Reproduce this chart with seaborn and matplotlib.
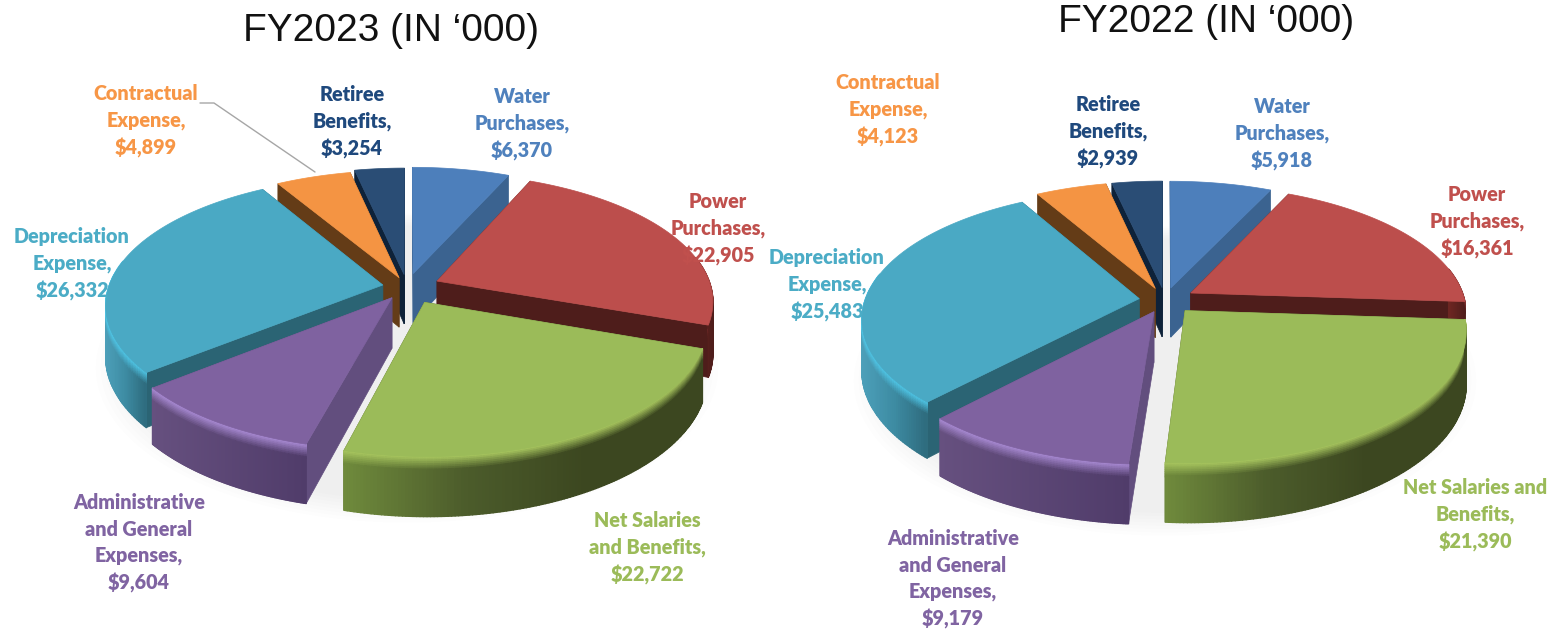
import numpy as np
import matplotlib
matplotlib.use("Agg")
import matplotlib.pyplot as plt
from matplotlib.collections import PolyCollection
from matplotlib.colors import to_rgb
import seaborn as sns

# values in $'000, clockwise from 12 o'clock
categories_2023 = ["Water\nPurchases,", "Power\nPurchases,", "Net Salaries\nand Benefits,",
                   "Administrative\nand General\nExpenses,", "Depreciation\nExpense,",
                   "Contractual\nExpense,", "Retiree\nBenefits,"]
categories_2022 = ["Water\nPurchases,", "Power\nPurchases,", "Net Salaries and\nBenefits,",
                   "Administrative\nand General\nExpenses,", "Depreciation\nExpense,",
                   "Contractual\nExpense,", "Retiree\nBenefits,"]
fy2023 = [6370, 22905, 22722, 9604, 26332, 4899, 3254]
fy2022 = [5918, 16361, 21390, 9179, 25483, 4123, 2939]

explode_2023 = [0.11, 0.12, 0.135, 0.10, 0.09, 0.08, 0.10]
explode_2022 = [0.10, 0.11, 0.11, 0.10, 0.095, 0.10, 0.10]

top_colors = ["#4d7fbb", "#bc4e4c", "#9bbb59", "#7f62a0", "#4aa9c4", "#f49443", "#2a4d75"]
text_colors = ["#4f81bd", "#c0504d", "#9bbb59", "#8064a2", "#4bacc6", "#f79646", "#1f497d"]
cut_colors = ["#3b6390", "#4e1d1b", "#4c5c2b", "#624e7e", "#2b6474", "#643c17", "#0e2239"]
rim_colors = [["#3b6390", "#3b6390"], ["#6e2622", "#4e1d1b"],
              ["#6f8a3c", "#4c5c2b", "#3c4720", "#3c4720"], ["#66507f", "#503c6a"],
              ["#4da0ba", "#3d8ba2", "#2e6a7c"], ["#643c17", "#643c17"], ["#0e2239", "#0e2239"]]
bevel_colors = ["#4d7fbb", "#8a3633", "#a6c45e", "#a688d0", "#4fc4e4", "#f49443", "#2a4d75"]

label_pos_2023 = [(522, 124), (718, 229), (647, 548), (139, 543), (72, 264), (146, 121), (352, 122)]
label_pos_2022 = [(1282, 134), (1477, 222), (1475, 515), (953, 579), (827, 285), (888, 110), (1108, 132)]

RX, RY, PERSP, DEPTH = 274, 126, 0.15, 50
BANDS = [0, 0.03, 0.06, 0.09, 0.12, 0.15, 0.18, 0.21, 0.24, 1.0]


def draw_pie(ax, cx, cy, values, explode):
    wedges, _ = ax.pie(values, explode=explode, startangle=90, counterclock=False, radius=1)

    def project(x, y, drop=0.0):
        d = 1 + PERSP * y
        return cx + RX * x / d, cy - RY * y / d + drop / d

    # soft shadow under the whole pie
    t = np.linspace(0, 2 * np.pi, 200)
    for grow in np.linspace(1.12, 1.0, 8):
        sx, sy = project(grow * np.cos(t), grow * np.sin(t), DEPTH + 5)
        ax.fill(sx, sy, color="#000000", alpha=0.008, lw=0, zorder=1)

    parts = []
    for i, w in enumerate(wedges):
        ang = np.radians(np.linspace(w.theta1, w.theta2, 140))
        parts.append((i, w.center, ang))
        w.remove()
    # back slices first
    parts.sort(key=lambda p: -(p[1][1] + np.sin(p[2]).mean() * 0.5))

    z = 2
    for i, (ox, oy), ang in parts:
        x = ox + np.cos(ang)
        y = oy + np.sin(ang)
        # cut faces
        for ex, ey in ((x[0], y[0]), (x[-1], y[-1])):
            xs = np.array([ox, ex, ex, ox])
            ys = np.array([oy, ey, ey, oy])
            drops = np.array([0, 0, DEPTH, DEPTH])
            px, py = project(xs, ys, drops)
            ax.fill(px, py, color=cut_colors[i], lw=0.5, zorder=z)
        # outer rim, front facing part only
        cmap = sns.blend_palette(rim_colors[i], as_cmap=True)
        front = np.where(np.sin(ang) < 0.2)[0]
        if len(front) > 1:
            fx, _ = project(x[front], y[front])
            span = max(fx.max() - fx.min(), 1)
            polys, cols = [], []
            for a, b in zip(front[:-1], front[1:]):
                mx, _ = project(x[a], y[a])
                base = np.array(to_rgb(cmap((mx - fx.min()) / span)))
                bev = np.array(to_rgb(bevel_colors[i]))
                for b0, b1 in zip(BANDS[:-1], BANDS[1:]):
                    pts = []
                    for k, fr in ((a, b0), (b, b0), (b, b1), (a, b1)):
                        pts.append(project(x[k], y[k], fr * DEPTH))
                    polys.append(pts)
                    mix = min(b0 / 0.21, 1.0)
                    cols.append(bev * (1 - mix) + base * mix)
            ax.add_collection(PolyCollection(polys, facecolors=cols, edgecolors=cols,
                                             linewidths=1.0, zorder=z))
        # top surface
        px, py = project(np.r_[ox, x], np.r_[oy, y])
        ax.fill(px, py, color=top_colors[i], lw=0.5, zorder=z + 0.5)
        z += 1


def add_labels(ax, names, values, positions):
    for name, val, pos, col in zip(names, values, positions, text_colors):
        ax.text(pos[0], pos[1], f"{name}\n${val:,}", color=col, ha="center", va="center",
                fontsize=14.2, fontweight="heavy", family="Lato", linespacing=1.45, zorder=50)


sns.set_theme(style="white")
fig = plt.figure(figsize=(15.57, 6.3), dpi=100)
ax = fig.add_axes([0, 0, 1, 1])

draw_pie(ax, 407, 287, fy2023, explode_2023)
draw_pie(ax, 1165, 300, fy2022, explode_2022)

ax.set_aspect("auto")
ax.set_xlim(0, 1557)
ax.set_ylim(630, 0)
ax.set_frame_on(False)
ax.set_xticks([])
ax.set_yticks([])

ax.plot([200, 214, 315], [103, 103, 172], color="#a6a6a6", lw=1, zorder=40)

add_labels(ax, categories_2023, fy2023, label_pos_2023)
add_labels(ax, categories_2022, fy2022, label_pos_2022)

ax.text(391, 31, "FY2023 (IN ‘000)", ha="center", va="center", fontsize=28,
        family="Liberation Sans", color="#111111")
ax.text(1206, 22, "FY2022 (IN ‘000)", ha="center", va="center", fontsize=28,
        family="Liberation Sans", color="#111111")

fig.savefig("out.png", dpi=100)
plt.close(fig)
